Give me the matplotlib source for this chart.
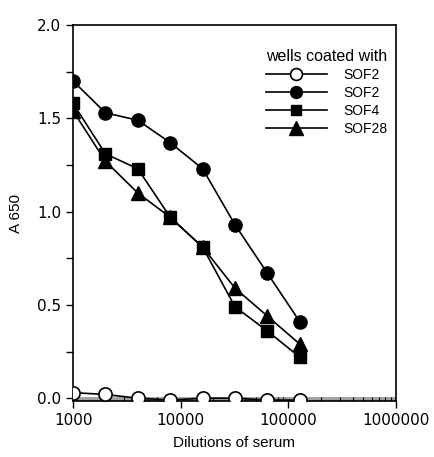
import matplotlib.pyplot as plt
from matplotlib.ticker import MultipleLocator, FixedLocator, NullFormatter

# valores
diluicoes = [1000, 2000, 4000, 8000, 16000, 32000, 64000, 128000]
sof2_aberto = [0.03, 0.02, 0.00, -0.01, 0.00, 0.00, -0.01, -0.01]
sof2_cheio = [1.70, 1.53, 1.49, 1.37, 1.23, 0.93, 0.67, 0.41]
sof4 = [1.58, 1.31, 1.23, 0.97, 0.81, 0.49, 0.36, 0.22]
sof28 = [1.54, 1.27, 1.10, 0.97, 0.81, 0.59, 0.44, 0.29]
rotulos = ['SOF2', 'SOF2', 'SOF4', 'SOF28']

fig = plt.figure(figsize=(4.35, 4.57), dpi=100)
ax = fig.add_axes([0.168, 0.1225, 0.742, 0.8225])

# faixa cinza perto do zero
ax.axhline(-0.004, color='#a0a0a0', lw=3.5, zorder=1)
ax.axhline(-0.013, color='black', lw=1.0, zorder=1)

kw = dict(color='black', lw=1.2, zorder=3)
l1, = ax.plot(diluicoes, sof2_aberto, marker='o', ms=9.5, mfc='white', mec='black', mew=1.2, **kw)
l2, = ax.plot(diluicoes, sof2_cheio, marker='o', ms=9.5, mfc='black', mec='black', **kw)
l3, = ax.plot(diluicoes, sof4, marker='s', ms=8.5, mfc='black', mec='black', **kw)
l4, = ax.plot(diluicoes, sof28, marker='^', ms=10.5, mfc='black', mec='black', **kw)

ax.set_xscale('log')
ax.set_xlim(1000, 1000000)
ax.set_ylim(-0.015, 2.0)

ax.yaxis.set_major_locator(MultipleLocator(0.5))
ax.yaxis.set_minor_locator(MultipleLocator(0.25))
ax.yaxis.set_major_formatter(plt.FuncFormatter(lambda v, p: '%.1f' % v))
ax.xaxis.set_major_locator(FixedLocator([1000, 10000, 100000, 1000000]))
ax.xaxis.set_major_formatter(plt.FuncFormatter(lambda v, p: '%d' % v))
ax.xaxis.set_minor_formatter(NullFormatter())

ax.tick_params(axis='both', which='major', direction='out', length=5, width=1, labelsize=11)
ax.tick_params(axis='y', which='minor', direction='out', length=5, width=1)
ax.tick_params(axis='x', which='minor', direction='in', length=3, width=0.8)
for s in ax.spines.values():
    s.set_linewidth(1.2)

ax.set_xlabel('Dilutions of serum', fontsize=11, family='Liberation Sans', labelpad=6)
ax.set_ylabel('A 650', fontsize=11, family='Liberation Sans', labelpad=10)

leg = ax.legend([l1, l2, l3, l4], rotulos, title='wells coated with', frameon=False,
                loc='upper right', bbox_to_anchor=(1.0, 0.96), handlelength=4.4,
                handletextpad=1.2, labelspacing=0.3, borderaxespad=0.2,
                markerscale=0.9, prop={'family': 'Liberation Sans', 'size': 10})
leg.get_title().set_fontsize(11.5)
leg.get_title().set_family('Liberation Sans')
leg._legend_box.align = 'right'

plt.savefig('out.png', dpi=100)
